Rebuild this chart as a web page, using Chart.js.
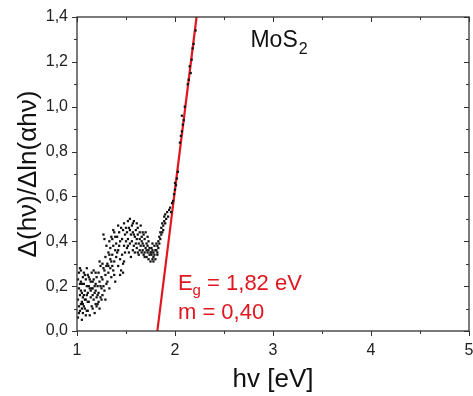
<!DOCTYPE html>
<html>
<head>
<meta charset="utf-8">
<script src="https://cdn.jsdelivr.net/npm/chart.js@4.4.1/dist/chart.umd.min.js"></script>
<style>
  html, body { margin: 0; padding: 0; background: #fff; }
  #wrap { width: 473px; height: 396px; }
</style>
</head>
<body>
<div id="wrap"><canvas id="tauc"></canvas></div>
<script>
// measured points, [hv, d(hv)/dln(ahv)]
const measured = [
  [1.01,0.06],[1.01,0.14],[1.02,0.19],[1.02,0.26],[1.03,0.09],[1.03,0.16],[1.04,0.12],[1.04,0.22],[1.05,0.05],[1.05,0.17],[1.02,0.11],[1.04,0.27],[1.03,0.21],[1.05,0.13],
  [1.01,0.23],[1.02,0.08],[1.03,0.28],[1.04,0.18],[1.05,0.10],[1.05,0.21],
  [1.06,0.08],[1.06,0.15],[1.07,0.21],[1.07,0.11],[1.08,0.18],[1.08,0.25],[1.09,0.07],[1.09,0.14],[1.10,0.20],[1.10,0.28],[1.06,0.24],[1.08,0.10],[1.09,0.23],[1.07,0.16],
  [1.06,0.12],[1.07,0.26],[1.08,0.14],[1.10,0.09],[1.10,0.16],
  [1.11,0.09],[1.11,0.17],[1.12,0.13],[1.12,0.24],[1.13,0.19],[1.13,0.07],[1.14,0.15],[1.14,0.22],[1.15,0.11],[1.15,0.26],[1.12,0.20],[1.14,0.18],[1.11,0.25],
  [1.11,0.13],[1.13,0.23],[1.15,0.19],
  [1.16,0.10],[1.16,0.19],[1.17,0.14],[1.17,0.23],[1.18,0.08],[1.18,0.17],[1.19,0.12],[1.19,0.21],[1.20,0.15],[1.20,0.24],[1.17,0.27],[1.18,0.20],[1.16,0.16],
  [1.19,0.18],[1.20,0.11],[1.16,0.22],[1.19,0.26],
  [1.21,0.12],[1.21,0.20],[1.22,0.17],[1.22,0.26],[1.23,0.10],[1.23,0.22],[1.24,0.15],[1.24,0.29],[1.25,0.19],[1.25,0.24],[1.22,0.13],[1.23,0.31],
  [1.21,0.16],[1.24,0.20],[1.25,0.14],
  [1.26,0.16],[1.26,0.23],[1.27,0.20],[1.27,0.43],[1.28,0.27],[1.28,0.18],[1.29,0.25],[1.29,0.33],[1.30,0.21],[1.30,0.38],[1.28,0.41],[1.26,0.30],[1.29,0.14],
  [1.27,0.28],[1.30,0.29],
  [1.31,0.22],[1.31,0.30],[1.32,0.35],[1.32,0.26],[1.33,0.40],[1.33,0.19],[1.34,0.32],[1.34,0.37],[1.35,0.24],[1.35,0.42],[1.32,0.29],[1.34,0.28],
  [1.33,0.34],[1.35,0.31],
  [1.36,0.34],[1.36,0.41],[1.37,0.27],[1.37,0.38],[1.38,0.31],[1.38,0.44],[1.39,0.36],[1.39,0.22],[1.40,0.39],[1.40,0.33],[1.37,0.45],[1.38,0.25],
  [1.36,0.29],[1.39,0.42],
  [1.41,0.42],[1.41,0.35],[1.42,0.47],[1.42,0.29],[1.43,0.38],[1.43,0.44],[1.44,0.32],[1.44,0.40],[1.45,0.46],[1.45,0.27],[1.42,0.36],[1.44,0.25],
  [1.46,0.41],[1.46,0.34],[1.47,0.45],[1.47,0.30],[1.48,0.38],[1.48,0.48],[1.49,0.43],[1.49,0.35],[1.50,0.40],[1.50,0.46],[1.47,0.26],[1.48,0.31],
  [1.51,0.44],[1.51,0.37],[1.52,0.49],[1.52,0.41],[1.53,0.35],[1.53,0.46],[1.54,0.50],[1.54,0.39],[1.55,0.43],[1.55,0.33],[1.52,0.38],[1.54,0.45],
  [1.56,0.47],[1.56,0.40],[1.57,0.36],[1.57,0.44],[1.58,0.49],[1.58,0.38],[1.59,0.42],[1.59,0.35],[1.60,0.45],[1.60,0.39],[1.57,0.48],[1.58,0.43],
  [1.61,0.41],[1.61,0.37],[1.62,0.46],[1.62,0.43],[1.63,0.39],[1.63,0.34],[1.64,0.44],[1.64,0.41],[1.65,0.38],[1.65,0.47],[1.62,0.35],[1.64,0.36],[1.61,0.48],
  [1.66,0.42],[1.66,0.40],[1.67,0.36],[1.67,0.44],[1.68,0.38],[1.68,0.34],[1.69,0.41],[1.69,0.35],[1.70,0.37],[1.70,0.44],[1.67,0.39],[1.68,0.43],[1.66,0.35],[1.69,0.33],
  [1.71,0.36],[1.71,0.33],[1.72,0.38],[1.72,0.35],[1.73,0.32],[1.73,0.40],[1.74,0.37],[1.74,0.34],[1.75,0.35],[1.75,0.31],[1.72,0.42],[1.73,0.36],[1.71,0.39],
  [1.76,0.34],[1.76,0.37],[1.77,0.32],[1.77,0.36],[1.78,0.35],[1.78,0.33],[1.79,0.38],[1.79,0.34],[1.80,0.36],[1.80,0.32],[1.77,0.39],[1.78,0.31],[1.76,0.35],
  [1.81,0.36],[1.81,0.39],[1.82,0.38],[1.82,0.35],[1.83,0.40],[1.83,0.37],[1.84,0.42],[1.84,0.39],[1.85,0.41],[1.85,0.44],[1.82,0.34],
  [1.86,0.43],[1.86,0.46],[1.87,0.44],[1.87,0.48],[1.88,0.47],[1.88,0.45],[1.89,0.49],[1.89,0.51],[1.90,0.48],[1.90,0.52],
  [1.91,0.50],[1.92,0.53],[1.93,0.51],[1.94,0.54],[1.95,0.55],[1.96,0.53],[1.97,0.57],
  [1.98,0.58],[1.99,0.61],[2.00,0.63],[2.00,0.66],[2.01,0.65],[2.02,0.68],[2.03,0.71],
  [2.05,0.84],[2.06,0.87],[2.07,0.89],[2.08,0.92],[2.07,0.96],[2.09,0.94],[2.10,1.00],
  [2.13,1.10],[2.14,1.12],[2.15,1.18],[2.16,1.15],[2.17,1.21],[2.18,1.26],[2.19,1.28],[2.21,1.34]
];

// linear fit through the absorption edge
const fitLine = [[1.82, 0], [2.22, 1.40]];

const xTicks = [1, 2, 3, 4, 5];
const yTicks = [0, 0.2, 0.4, 0.6, 0.8, 1.0, 1.2, 1.4];

const RED = '#e0171f';
const AXIS = '#333';
const FONT = "'Liberation Sans', Arial, sans-serif";

const comma = v => v.toFixed(1).replace('.', ',');

// no extra room for the edge tick labels, the plot box is fixed
const fixPadding = s => { s.paddingLeft = s.paddingRight = s.paddingTop = s.paddingBottom = 0; };

// frame + outward ticks on bottom/left, inward on top/right
const frameTicks = {
  id: 'frameTicks',
  afterDraw(chart) {
    const { ctx, chartArea: a, scales: { x, y } } = chart;
    ctx.save();
    ctx.strokeStyle = AXIS;
    ctx.lineWidth = 1.3;
    ctx.strokeRect(a.left, a.top, a.right - a.left, a.bottom - a.top);
    ctx.lineWidth = 1;
    ctx.beginPath();
    for (let v = 1; v <= 5.001; v += 0.5) {
      const px = Math.round(x.getPixelForValue(v)) + 0.5;
      const len = Math.abs(v - Math.round(v)) < 0.01 ? 5 : 3;
      ctx.moveTo(px, a.bottom); ctx.lineTo(px, a.bottom + len);
      ctx.moveTo(px, a.top); ctx.lineTo(px, a.top + len);
    }
    for (let i = 0; i <= 14; i++) {
      const py = Math.round(y.getPixelForValue(i / 10)) + 0.5;
      const len = i % 2 === 0 ? 5 : 3;
      ctx.moveTo(a.left, py); ctx.lineTo(a.left - len, py);
      ctx.moveTo(a.right, py); ctx.lineTo(a.right - len, py);
    }
    ctx.stroke();
    ctx.restore();
  }
};

// sample name and fit result
const labels = {
  id: 'labels',
  afterDraw(chart) {
    const { ctx, scales: { x, y } } = chart;
    ctx.save();
    ctx.textBaseline = 'alphabetic';
    ctx.textAlign = 'left';

    let px = x.getPixelForValue(2.77), py = y.getPixelForValue(1.266);
    ctx.fillStyle = '#111';
    ctx.font = `23px ${FONT}`;
    ctx.fillText('MoS', px, py);
    px += ctx.measureText('MoS').width;
    ctx.font = `16px ${FONT}`;
    ctx.fillText('2', px + 1, py + 7);

    ctx.fillStyle = RED;
    px = x.getPixelForValue(2.03); py = y.getPixelForValue(0.185);
    ctx.font = `22px ${FONT}`;
    ctx.fillText('E', px, py);
    let w = ctx.measureText('E').width;
    ctx.font = `15px ${FONT}`;
    ctx.fillText('g', px + w, py + 5);
    w += ctx.measureText('g').width;
    ctx.font = `22px ${FONT}`;
    ctx.fillText(' = 1,82 eV', px + w, py);

    py = y.getPixelForValue(0.053);
    ctx.fillText('m = 0,40', px, py);
    ctx.restore();
  }
};

new Chart(document.getElementById('tauc'), {
  type: 'scatter',
  data: {
    datasets: [
      {
        data: measured.map(([hv, d]) => ({ x: hv, y: d })),
        pointStyle: 'rect',
        pointRadius: 1.6,
        backgroundColor: '#111',
        borderWidth: 0
      },
      {
        type: 'line',
        data: fitLine.map(([hv, d]) => ({ x: hv, y: d })),
        borderColor: RED,
        borderWidth: 2.2,
        pointRadius: 0,
        fill: false
      }
    ]
  },
  options: {
    responsive: true,
    maintainAspectRatio: false,
    animation: false,
    layout: { padding: { top: 17, right: 4, left: 0, bottom: 0 } },
    plugins: { legend: { display: false }, tooltip: { enabled: false } },
    scales: {
      x: {
        type: 'linear',
        min: 1, max: 5,
        afterFit: s => { s.height = 65; fixPadding(s); },
        afterBuildTicks: s => { s.ticks = xTicks.map(v => ({ value: v })); },
        grid: { display: false, drawTicks: false },
        border: { display: false },
        ticks: { color: '#222', font: { family: FONT, size: 16 }, padding: 10, maxRotation: 0, callback: v => String(v) },
        title: { display: true, text: 'hv [eV]', color: '#111', font: { family: FONT, size: 26 }, padding: { top: 0, bottom: 1 } }
      },
      y: {
        min: 0, max: 1.4,
        afterFit: s => { s.width = 77; fixPadding(s); },
        afterBuildTicks: s => { s.ticks = yTicks.map(v => ({ value: v })); },
        grid: { display: false, drawTicks: false },
        border: { display: false },
        ticks: { color: '#222', font: { family: FONT, size: 16 }, padding: 9, callback: v => comma(v) },
        title: { display: true, text: 'Δ(hν)/Δln(αhν)', color: '#111', font: { family: FONT, size: 26 }, padding: { top: 13, bottom: 0 } }
      }
    }
  },
  plugins: [frameTicks, labels]
});
</script>
</body>
</html>
